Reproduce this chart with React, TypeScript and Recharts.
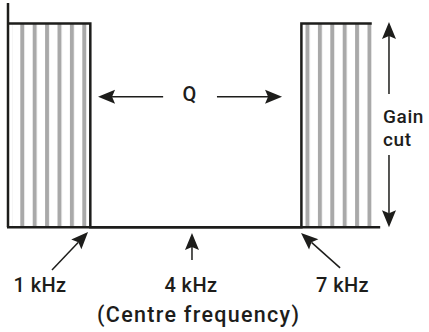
import React from 'react';
import {
  ComposedChart,
  Area,
  Line,
  XAxis,
  YAxis,
  ReferenceLine,
  ReferenceDot,
} from 'recharts';

// notch response, frequency in kHz, gain normalised (1 = pass, 0 = cut)
const freq = [-1.34, -1.22, 1, 1, 7, 7, 9];
const outlineGain = [1, null, 1, 0, 0, 1, 1];
const hatchGain = [null, 1, 1, 0, 0, 1, 1];

const X_DOMAIN = [-1.34, 10.4];
const Y_DOMAIN = [-0.5, 1.1];
const baselineEnd = 9.24;

// annotation arrows: tail -> tip
const arrowTails = [
  [3.07, 0.64], [4.6, 0.64], [9.49, 0.653], [9.49, 0.354],
  [-0.09, -0.21], [3.89, -0.161], [8.1, -0.2],
];
const arrowTips = [
  [1.22, 0.64], [6.45, 0.64], [9.49, 1.007], [9.49, 0.0],
  [0.935, -0.024], [3.89, -0.029], [6.99, -0.029],
];

const labelText = ['Q', 'Gain\ncut', '1 kHz', '4 kHz', '7 kHz', '(Centre frequency)'];
const labelX = [3.82, 9.32, -0.43, 3.86, 8.17, 4.08];
const labelY = [0.617, 0.511, -0.318, -0.318, -0.318, -0.466];
const labelAnchor = ['middle', 'start', 'middle', 'middle', 'middle', 'middle'];

const data = freq.map((f, i) => ({ f, outline: outlineGain[i], hatch: hatchGain[i] }));

const INK = '#1d1d1b';
const FONT = 'Roboto, "Open Sans", sans-serif';

function Arrow(props: any) {
  const { x1, y1, x2, y2 } = props;
  const dx = x2 - x1;
  const dy = y2 - y1;
  const len = Math.hypot(dx, dy) || 1;
  const ux = dx / len;
  const uy = dy / len;
  const L = 17;
  const W = 7;
  const N = 3;
  const bx = x2 - ux * L;
  const by = y2 - uy * L;
  const nx = x2 - ux * (L - N);
  const ny = y2 - uy * (L - N);
  const pts = [
    [x2, y2],
    [bx - uy * W, by + ux * W],
    [nx, ny],
    [bx + uy * W, by - ux * W],
  ].map((p) => p.join(',')).join(' ');
  return (
    <g>
      <line x1={x1} y1={y1} x2={nx} y2={ny} stroke={INK} strokeWidth={1.5} />
      <polygon points={pts} fill={INK} />
    </g>
  );
}

function makeLabel(i: number) {
  const lines = labelText[i].split('\n');
  const last = i === labelText.length - 1;
  const stacked = lines.length > 1;
  return (props: any) => (
    <text
      x={props.cx}
      y={props.cy}
      textAnchor={labelAnchor[i]}
      fill={INK}
      fontFamily={FONT}
      fontWeight={500}
      fontSize={last ? 21.5 : stacked ? 19 : 20}
      letterSpacing={last ? 1.3 : stacked ? 0.6 : 0.4}
    >
      {lines.map((s, j) => (
        <tspan key={j} x={props.cx} dy={j === 0 ? 0 : 22.5}>
          {s}
        </tspan>
      ))}
    </text>
  );
}

export default function App() {
  return (
    <div style={{ position: 'absolute', left: 0, top: 0, width: 429, height: 332, background: '#fff' }}>
      <ComposedChart
        width={429}
        height={332}
        data={data}
        margin={{ top: 3, right: 8, bottom: 3, left: 8 }}
      >
        <defs>
          <pattern id="stripes" patternUnits="userSpaceOnUse" x={7.9} y={0} width={12.4} height={10}>
            <rect x={0} y={0} width={4} height={10} fill="#a9a9a9" />
          </pattern>
        </defs>
        <XAxis dataKey="f" type="number" domain={X_DOMAIN} allowDataOverflow hide />
        <YAxis type="number" domain={Y_DOMAIN} allowDataOverflow hide />
        <Area
          type="linear"
          dataKey="hatch"
          stroke="none"
          fill="url(#stripes)"
          fillOpacity={1}
          baseValue={0}
          isAnimationActive={false}
        />
        <Line
          type="linear"
          dataKey="outline"
          stroke={INK}
          strokeWidth={2.5}
          strokeLinejoin="miter"
          dot={false}
          activeDot={false}
          connectNulls
          isAnimationActive={false}
        />
        <ReferenceLine
          segment={[{ x: X_DOMAIN[0], y: 0 }, { x: X_DOMAIN[0], y: Y_DOMAIN[1] }]}
          stroke={INK}
          strokeWidth={2.5}
        />
        <ReferenceLine
          segment={[{ x: X_DOMAIN[0] - 0.03, y: 0 }, { x: baselineEnd, y: 0 }]}
          stroke={INK}
          strokeWidth={2.5}
          ifOverflow="visible"
        />
        {arrowTails.map((t, i) => (
          <ReferenceLine
            key={'a' + i}
            segment={[{ x: t[0], y: t[1] }, { x: arrowTips[i][0], y: arrowTips[i][1] }]}
            shape={Arrow}
          />
        ))}
        {labelText.map((_, i) => (
          <ReferenceDot key={'l' + i} x={labelX[i]} y={labelY[i]} r={0} shape={makeLabel(i)} />
        ))}
      </ComposedChart>
    </div>
  );
}
